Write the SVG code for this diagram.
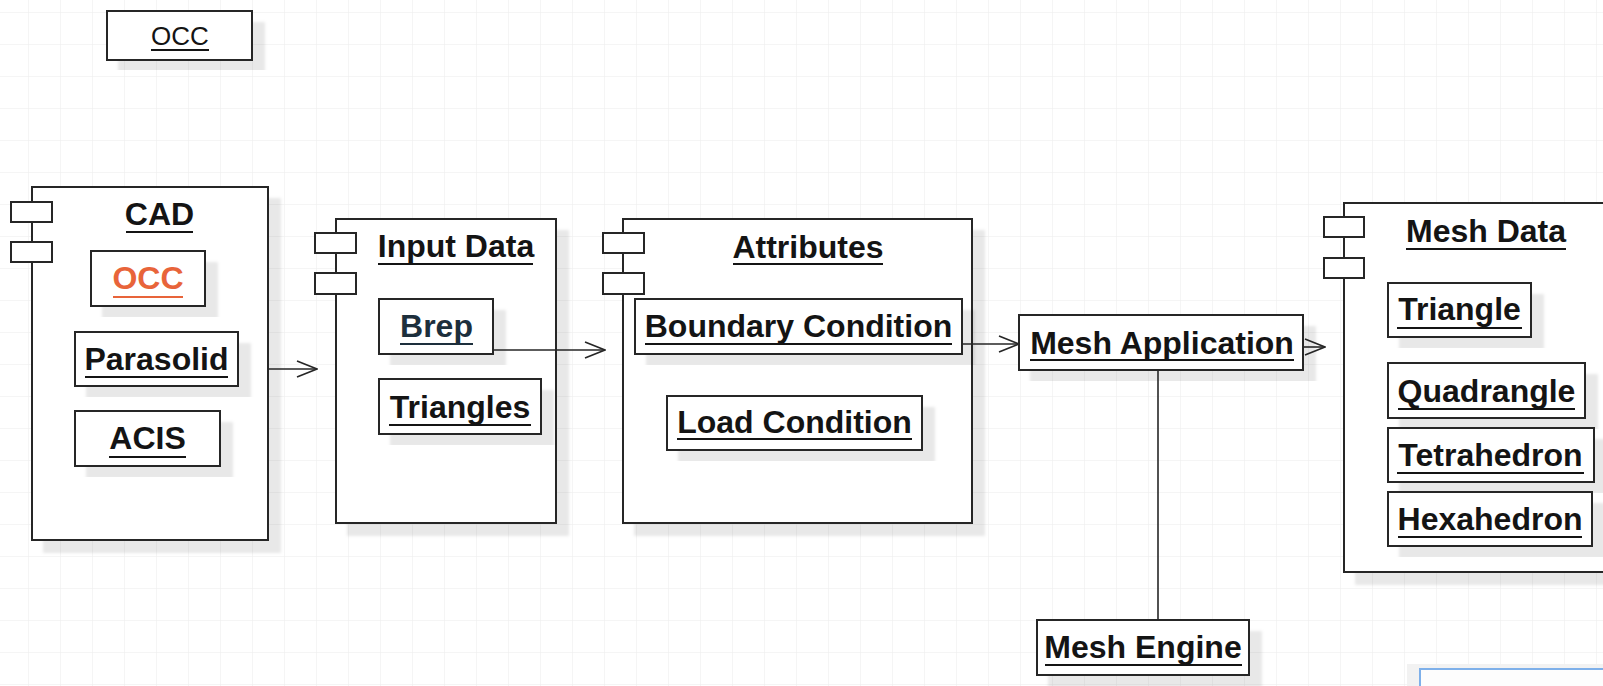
<svg xmlns="http://www.w3.org/2000/svg" width="1603" height="686" viewBox="0 0 1603 686">
<style>
.box{fill:#fff;stroke:#262626;stroke-width:2}
.sh{filter:url(#shadow)}
.t{font-family:"Liberation Sans",Arial,sans-serif;font-weight:bold;font-size:32px;fill:#141414;text-anchor:middle}
.ul{stroke:#141414;stroke-width:2}
.conn{fill:none;stroke:#262626;stroke-width:1.6}
</style>
<defs>
<pattern id="grid" x="28" y="12" width="32" height="32" patternUnits="userSpaceOnUse">
<path d="M0,0 H32 M0,0 V32" fill="none" stroke="#ececec" stroke-width="1"/>
</pattern>
<filter id="shadow" x="-10%" y="-10%" width="130%" height="130%">
<feDropShadow dx="12" dy="12" stdDeviation="1.5" flood-color="#000" flood-opacity="0.09"/>
</filter>
<marker id="open" markerWidth="22" markerHeight="20" refX="21" refY="9" orient="auto" markerUnits="userSpaceOnUse">
<path d="M1,1 L21,9 L1,17" fill="none" stroke="#262626" stroke-width="1.6"/>
</marker>
</defs>
<rect width="1603" height="686" fill="#fff"/>
<rect width="1603" height="686" fill="url(#grid)"/>

<g id="occ-top">
<rect class="box sh" x="107" y="11" width="145" height="49"/>
<text x="180" y="45" font-family="Liberation Sans,Arial,sans-serif" font-size="26" fill="#141414" text-anchor="middle">OCC</text>
<line class="ul" x1="151" y1="50" x2="209" y2="50" stroke-width="1.6"/>
</g>

<g id="cad">
<rect class="box sh" x="32" y="187" width="236" height="353"/>
<rect class="box" x="11" y="202" width="41" height="20"/>
<rect class="box" x="11" y="242" width="41" height="20"/>
<text class="t" x="159.5" y="225">CAD</text>
<line class="ul" x1="126" y1="232" x2="193" y2="232"/>
<g id="cad-occ">
<rect class="box sh" x="91" y="251" width="114" height="55"/>
<text class="t" x="148" y="289" style="fill:#e8643a">OCC</text>
<line class="ul" x1="113" y1="297" x2="183" y2="297" style="stroke:#e8643a"/>
</g>
<g id="cad-parasolid">
<rect class="box sh" x="75" y="332" width="163" height="54"/>
<text class="t" x="156.5" y="370">Parasolid</text>
<line class="ul" x1="85" y1="377" x2="228" y2="377"/>
</g>
<g id="cad-acis">
<rect class="box sh" x="75" y="411" width="145" height="55"/>
<text class="t" x="147.5" y="449">ACIS</text>
<line class="ul" x1="109" y1="457" x2="186" y2="457"/>
</g>
</g>

<g id="input-data">
<rect class="box sh" x="336" y="219" width="220" height="304"/>
<rect class="box" x="315" y="233" width="41" height="20"/>
<rect class="box" x="315" y="273" width="41" height="21"/>
<text class="t" x="456" y="257">Input Data</text>
<line class="ul" x1="378" y1="264" x2="533" y2="264"/>
<g id="brep">
<rect class="box sh" x="379" y="299" width="114" height="55"/>
<text class="t" x="436.5" y="337" style="fill:#1d2f3c">Brep</text>
<line class="ul" x1="400" y1="344" x2="473" y2="344" style="stroke:#1d2f3c"/>
</g>
<g id="triangles">
<rect class="box sh" x="379" y="379" width="162" height="55"/>
<text class="t" x="460" y="418">Triangles</text>
<line class="ul" x1="389" y1="425" x2="531" y2="425"/>
</g>
</g>

<g id="attributes">
<rect class="box sh" x="623" y="219" width="349" height="304"/>
<rect class="box" x="603" y="233" width="41" height="20"/>
<rect class="box" x="603" y="273" width="41" height="21"/>
<text class="t" x="808" y="258">Attributes</text>
<line class="ul" x1="733" y1="264" x2="883" y2="264"/>
<g id="boundary-condition">
<rect class="box sh" x="635" y="299" width="327" height="55"/>
<text class="t" x="798.5" y="337">Boundary Condition</text>
<line class="ul" x1="645" y1="344" x2="952" y2="344"/>
</g>
<g id="load-condition">
<rect class="box sh" x="667" y="396" width="255" height="54"/>
<text class="t" x="794.5" y="433">Load Condition</text>
<line class="ul" x1="677" y1="439" x2="912" y2="439"/>
</g>
</g>

<g id="mesh-application">
<rect class="box sh" x="1019" y="315" width="284" height="55"/>
<text class="t" x="1162" y="354">Mesh Application</text>
<line class="ul" x1="1030" y1="360" x2="1294" y2="360"/>
</g>

<g id="mesh-data">
<rect class="box sh" x="1344" y="203" width="270" height="369"/>
<rect class="box" x="1324" y="217" width="40" height="20"/>
<rect class="box" x="1324" y="258" width="40" height="20"/>
<text class="t" x="1486" y="242">Mesh Data</text>
<line class="ul" x1="1406" y1="249" x2="1566" y2="249"/>
<g id="triangle">
<rect class="box sh" x="1388" y="283" width="143" height="54"/>
<text class="t" x="1459.5" y="320">Triangle</text>
<line class="ul" x1="1397" y1="328" x2="1522" y2="328"/>
</g>
<g id="quadrangle">
<rect class="box sh" x="1388" y="363" width="197" height="55"/>
<text class="t" x="1486.5" y="402">Quadrangle</text>
<line class="ul" x1="1398" y1="409" x2="1575" y2="409"/>
</g>
<g id="tetrahedron">
<rect class="box sh" x="1388" y="428" width="206" height="54"/>
<text class="t" x="1490.5" y="466">Tetrahedron</text>
<line class="ul" x1="1397" y1="473" x2="1584" y2="473"/>
</g>
<g id="hexahedron">
<rect class="box sh" x="1388" y="492" width="204" height="54"/>
<text class="t" x="1490" y="530">Hexahedron</text>
<line class="ul" x1="1398" y1="537" x2="1582" y2="537"/>
</g>
</g>

<g id="mesh-engine">
<rect class="box sh" x="1037" y="620" width="212" height="55"/>
<text class="t" x="1143" y="658">Mesh Engine</text>
<line class="ul" x1="1045" y1="665" x2="1242" y2="665"/>
</g>

<g id="connectors">
<path class="conn" d="M268,369 L317,369" marker-end="url(#open)"/>
<path class="conn" d="M493,350 L605,350" marker-end="url(#open)"/>
<path class="conn" d="M962,344 L1019,344" marker-end="url(#open)"/>
<path class="conn" d="M1303,347 L1325,347" marker-end="url(#open)"/>
<path class="conn" d="M1158,370 L1158,620"/>
</g>

<g id="panel">
<rect x="1407" y="664" width="210" height="40" fill="#f2f2f2" filter="url(#shadow)"/>
<rect x="1420" y="669" width="195" height="30" fill="#fdfdfd" stroke="#7eb0ea" stroke-width="2"/>
</g>
</svg>
